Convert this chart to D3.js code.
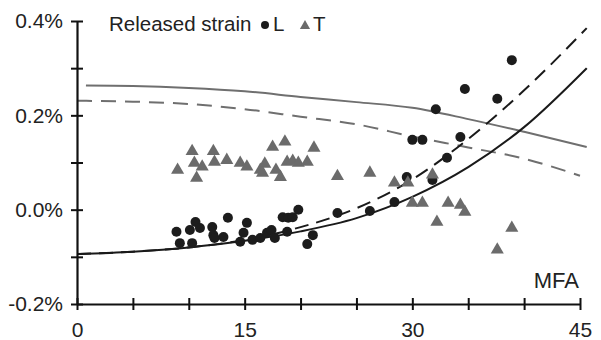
<!DOCTYPE html>
<html>
<head>
<meta charset="utf-8">
<script src="https://cdn.jsdelivr.net/npm/d3@7/dist/d3.min.js"></script>
<style>
  html, body { margin: 0; padding: 0; background: #fff; }
  svg { display: block; font-family: "Liberation Sans", Arial, sans-serif; }
</style>
</head>
<body>
<div id="chart"></div>
<script>
// released strain, longitudinal (L) and tangential (T), vs MFA (degrees)
const mfaL = [8.9, 9.2, 10.1, 10.3, 10.6, 11.0, 12.1, 12.2, 12.3, 13.1, 13.5, 14.6, 14.9, 15.2,
  15.7, 16.4, 17.0, 17.4, 17.7, 18.8, 18.4, 18.9, 19.3, 19.8, 20.6, 21.1, 23.3, 26.2, 28.4,
  29.5, 31.8, 30.0, 30.9, 33.1, 34.3, 32.1, 34.7, 37.6, 38.9];
const strainL = [-0.047, -0.071, -0.043, -0.071, -0.026, -0.039, -0.037, -0.054, -0.060, -0.058,
  -0.017, -0.068, -0.049, -0.028, -0.064, -0.060, -0.049, -0.043, -0.060, -0.047, -0.016,
  -0.017, -0.016, 0.000, -0.073, -0.054, -0.007, -0.003, 0.016, 0.069, 0.063, 0.148, 0.148,
  0.110, 0.154, 0.213, 0.256, 0.235, 0.317];

const mfaT = [9.0, 10.3, 10.5, 11.2, 10.7, 12.2, 12.3, 13.4, 14.6, 15.2, 16.4, 16.8, 16.6, 17.5,
  17.8, 18.2, 18.6, 18.8, 19.3, 19.8, 20.6, 21.2, 23.3, 26.2, 28.4, 29.6, 31.8, 30.0, 30.9,
  32.2, 33.2, 34.3, 34.7, 38.9, 37.6];
const strainT = [0.084, 0.124, 0.099, 0.091, 0.067, 0.124, 0.101, 0.105, 0.099, 0.091, 0.084,
  0.097, 0.078, 0.133, 0.084, 0.069, 0.144, 0.101, 0.103, 0.099, 0.101, 0.131, 0.071, 0.078,
  0.057, 0.057, 0.074, 0.014, 0.014, -0.026, 0.014, 0.010, -0.005, -0.039, -0.085];

// model curves, read at these MFA values
const curveMfa = [0, 5, 10, 15, 20, 25, 30, 35, 40, 45.6];
const modelLSolid = [-0.094, -0.089, -0.080, -0.066, -0.046, -0.018, 0.027, 0.090, 0.175, 0.300];
const modelLDashed = [-0.094, -0.089, -0.080, -0.064, -0.037, 0.003, 0.064, 0.150, 0.253, 0.385];
const curveMfaT = [0.8, 5, 10, 15, 20, 25, 30, 35, 40, 45.6];
const modelTSolid = [0.263, 0.262, 0.258, 0.251, 0.239, 0.228, 0.216, 0.192, 0.165, 0.133];
const curveMfaTd = [0, 5, 10, 15, 20, 25, 30, 35, 40, 45];
const modelTDashed = [0.231, 0.229, 0.224, 0.213, 0.197, 0.181, 0.155, 0.132, 0.108, 0.072];

const xTicks = [0, 5, 10, 15, 20, 25, 30, 35, 40, 45];
const xLabels = [0, 15, 30, 45];
const yTicks = [-0.2, -0.1, 0, 0.1, 0.2, 0.3, 0.4];
const yLabels = ['-0.2%', '0.0%', '0.2%', '0.4%'];

const W = 601, H = 340;
const svg = d3.select('#chart').append('svg').attr('width', W).attr('height', H);

const x = d3.scaleLinear().domain([0, 45]).range([77, 580]);
const y = d3.scaleLinear().domain([-0.2, 0.4]).range([304, 21]);

const line = d3.line().x(d => x(d[0])).y(d => y(d[1])).curve(d3.curveMonotoneX);

function addCurve(xs, ys, color, dash) {
  svg.append('path')
    .datum(xs.map((v, i) => [v, ys[i]]))
    .attr('fill', 'none')
    .attr('stroke', color)
    .attr('stroke-width', 2)
    .attr('stroke-dasharray', dash)
    .attr('d', line);
}

addCurve(curveMfaT, modelTSolid, '#6f6f6f', null);
addCurve(curveMfaTd, modelTDashed, '#6f6f6f', '15,9');
addCurve(curveMfa, modelLSolid, '#1a1a1a', null);
addCurve(curveMfa, modelLDashed, '#1a1a1a', '14,8');

// axes
const gx = svg.append('g')
  .attr('transform', `translate(0,${y(-0.2)})`)
  .call(d3.axisBottom(x).tickValues(xTicks).tickSizeOuter(0)
    .tickFormat(d => xLabels.includes(d) ? d : ''));
gx.select('.domain').attr('stroke', '#111').attr('stroke-width', 2.2);
gx.selectAll('.tick line').attr('y1', -6).attr('y2', 6).attr('stroke', '#111').attr('stroke-width', 2);
gx.selectAll('.tick text').attr('y', 18).attr('dy', '0.71em')
  .attr('font-size', 21).attr('fill', '#222').style('font-family', 'inherit');

const gy = svg.append('g')
  .attr('transform', `translate(${x(0)},0)`)
  .call(d3.axisLeft(y).tickValues(yTicks).tickSizeOuter(0)
    .tickFormat(d => {
      const i = [-0.2, 0, 0.2, 0.4].findIndex(v => Math.abs(v - d) < 1e-9);
      return i >= 0 ? yLabels[i] : '';
    }));
gy.select('.domain').attr('stroke', '#111').attr('stroke-width', 2.2);
gy.selectAll('.tick line').attr('x1', -6).attr('x2', 6).attr('stroke', '#111').attr('stroke-width', 2);
gy.selectAll('.tick text').attr('x', -14)
  .attr('font-size', 21).attr('fill', '#222').style('font-family', 'inherit');

// points
svg.append('g').selectAll('circle')
  .data(mfaL.map((v, i) => [v, strainL[i]]))
  .join('circle')
  .attr('cx', d => x(d[0]))
  .attr('cy', d => y(d[1]))
  .attr('r', 5)
  .attr('fill', '#1c1c1c');

const tri = d3.symbol(d3.symbolTriangle).size(74);
svg.append('g').selectAll('path')
  .data(mfaT.map((v, i) => [v, strainT[i]]))
  .join('path')
  .attr('transform', d => `translate(${x(d[0])},${y(d[1])})`)
  .attr('d', tri)
  .attr('fill', '#6b6b6b');

// axis title
svg.append('text')
  .attr('x', 579).attr('y', 288)
  .attr('text-anchor', 'end')
  .attr('font-size', 22).attr('fill', '#222')
  .text('MFA');

// legend
const leg = svg.append('g').attr('font-size', 20.5).attr('fill', '#222');
leg.append('text').attr('x', 109).attr('y', 31).text('Released strain');
leg.append('circle').attr('cx', 265).attr('cy', 25).attr('r', 4).attr('fill', '#1c1c1c');
leg.append('text').attr('x', 273).attr('y', 31).text('L');
leg.append('path').attr('transform', 'translate(305,26)').attr('d', d3.symbol(d3.symbolTriangle).size(45)).attr('fill', '#6b6b6b');
leg.append('text').attr('x', 313).attr('y', 31).text('T');
</script>
</body>
</html>
